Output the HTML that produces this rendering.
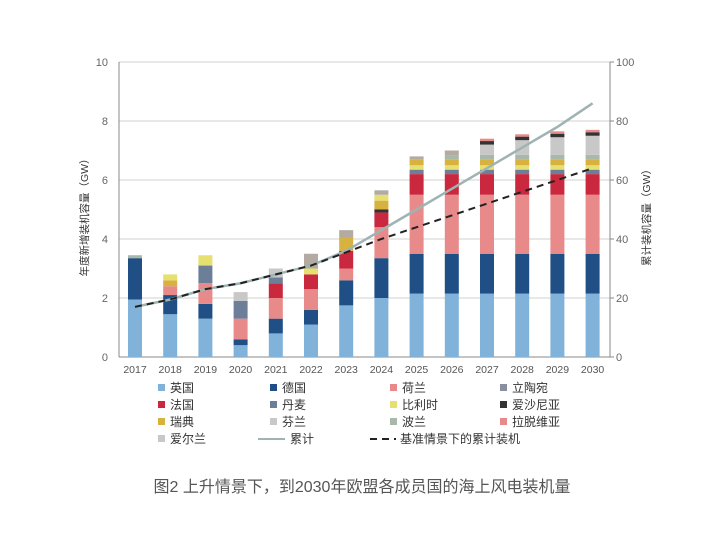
<!DOCTYPE html>
<html><head><meta charset="utf-8"><style>
body{margin:0;background:#fff;width:704px;height:530px;overflow:hidden}
text{font-family:"Liberation Sans","Noto Sans CJK SC",sans-serif}
</style></head><body>
<svg id="s" width="704" height="530" xmlns="http://www.w3.org/2000/svg"></svg>
<script>
const s=document.getElementById('s');let h='';
const X0=119,X1=610,Y0=357,K=29.5;
const y=v=>Y0-v*K;
for(let i=0;i<=10;i+=2){h+=`<line x1="${X0}" x2="${X1}" y1="${y(i)}" y2="${y(i)}" stroke="#d0d0d0" stroke-width="1"/>`;
h+=`<text x="108" y="${y(i)+4}" font-size="11" fill="#666" text-anchor="end">${i}</text>`;
h+=`<text x="616" y="${y(i)+4}" font-size="11" fill="#666">${i*10}</text>`;
h+=`<line x1="${X1}" x2="${X1+4}" y1="${y(i)}" y2="${y(i)}" stroke="#888"/>`;}
h+=`<line x1="${X0}" x2="${X0}" y1="${y(10)}" y2="${Y0}" stroke="#888"/>`;
h+=`<line x1="${X1}" x2="${X1}" y1="${y(10)}" y2="${Y0}" stroke="#888"/>`;
h+=`<line x1="${X0}" x2="${X1}" y1="${Y0}" y2="${Y0}" stroke="#888"/>`;
const C={uk:'#80b2da',de:'#1f4f84',nl:'#e88a8a',fr:'#c9283e',dk:'#6d7f98',be:'#e6e070',se:'#d8b240',fi:'#c8c8c8',pl:'#a9b9a9',gr:'#b3aaa2',dk2:'#333',li:'#8a8fa0'};
const B=[
[['uk',1.95],['de',1.4],['pl',0.1]],
[['uk',1.45],['de',0.65],['nl',0.3],['se',0.2],['be',0.2]],
[['uk',1.3],['de',0.5],['nl',0.7],['dk',0.6],['be',0.35]],
[['uk',0.4],['de',0.2],['nl',0.7],['dk',0.6],['fi',0.3]],
[['uk',0.8],['de',0.5],['nl',0.7],['fr',0.5],['dk',0.2],['fi',0.3]],
[['uk',1.1],['de',0.5],['nl',0.7],['fr',0.5],['be',0.2],['gr',0.5]],
[['uk',1.75],['de',0.85],['nl',0.4],['fr',0.6],['se',0.45],['gr',0.25]],
[['uk',2.0],['de',1.35],['nl',1.05],['fr',0.5],['dk2',0.1],['se',0.3],['be',0.2],['gr',0.15]],
];
const tops=[6.8,7.0,7.4,7.55,7.65,7.7];
tops.forEach(t=>{let a=[['uk',2.15],['de',1.35],['nl',2.0],['fr',0.7],['dk',0.15],['be',0.15],['se',0.2]];let c=a.reduce((p,q)=>p+q[1],0);let r=t-c;
if(r>0.4){a.push(['pl',0.15],['fi',r-0.35],['dk2',0.12],['nl',0.08]);}else if(r>0.15){a.push(['pl',0.12],['gr',r-0.12]);}else a.push(['gr',r]);B.push(a);});
const cx=i=>135+i*35.2;
B.forEach((b,i)=>{let v=0;b.forEach(([k,d])=>{h+=`<rect x="${cx(i)-7}" y="${y(v+d)}" width="14" height="${d*K}" fill="${C[k]}"/>`;v+=d;});
h+=`<text x="${cx(i)}" y="373" font-size="10.5" fill="#555" text-anchor="middle">${2017+i}</text>`;});
const cum=[17,19.5,23,25,28,31,36,43,50,57,64,71,78,86];
const base=[17,19.5,23,25,28,31,35.5,40,44,48,52,56,60,64];
h+=`<polyline fill="none" stroke="#9fb3b3" stroke-width="2.5" points="${cum.map((v,i)=>cx(i)+','+y(v/10)).join(' ')}"/>`;
h+=`<polyline fill="none" stroke="#222" stroke-width="2" stroke-dasharray="7,5" points="${base.map((v,i)=>cx(i)+','+y(v/10)).join(' ')}"/>`;
h+=`<text transform="translate(88,215) rotate(-90)" font-size="10.5" fill="#333" text-anchor="middle">年度新增装机容量（GW）</text>`;
h+=`<text transform="translate(650,215) rotate(-90)" font-size="10.5" fill="#333" text-anchor="middle">累计装机容量（GW）</text>`;
const L=[['uk','英国'],['de','德国'],['nl','荷兰'],['li','立陶宛'],['fr','法国'],['dk','丹麦'],['be','比利时'],['dk2','爱沙尼亚'],['se','瑞典'],['fi','芬兰'],['pl','波兰'],['nl','拉脱维亚'],['fi','爱尔兰']];
const cols=[158,270,390,500],rows=[392,409,426,443];
L.forEach(([k,t],i)=>{let x=cols[i%4],yy=rows[Math.floor(i/4)];h+=`<rect x="${x}" y="${yy-8}" width="7" height="7" fill="${C[k]}"/><text x="${x+12}" y="${yy}" font-size="12" fill="#333">${t}</text>`;});
h+=`<line x1="258" x2="285" y1="439" y2="439" stroke="#9fb3b3" stroke-width="2"/><text x="290" y="443" font-size="12" fill="#333">累计</text>`;
h+=`<line x1="370" x2="396" y1="439" y2="439" stroke="#222" stroke-width="2" stroke-dasharray="7,5"/><text x="400" y="443" font-size="12" fill="#333">基准情景下的累计装机</text>`;
h+=`<text x="362" y="492" font-size="16" fill="#555" text-anchor="middle">图2 上升情景下，到2030年欧盟各成员国的海上风电装机量</text>`;
s.innerHTML=h;
</script>
</body></html>
